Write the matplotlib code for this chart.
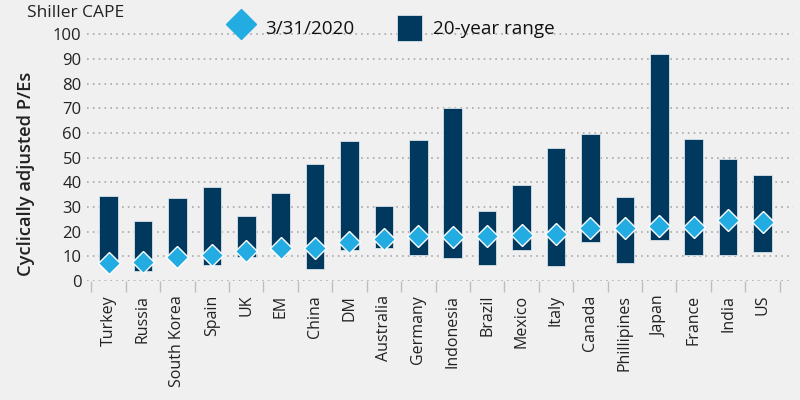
import matplotlib
matplotlib.use("Agg")
import matplotlib.pyplot as plt
from matplotlib.lines import Line2D
from matplotlib.patches import Patch
from matplotlib.ticker import MultipleLocator, FixedLocator
import numpy as np

countries = ["Turkey", "Russia", "South Korea", "Spain", "UK", "EM", "China", "DM",
             "Australia", "Germany", "Indonesia", "Brazil", "Mexico", "Italy", "Canada",
             "Phillipines", "Japan", "France", "India", "US"]
range_low = [7.5, 4.2, 10.5, 6.4, 9.7, 13.5, 5.0, 12.7, 13.4, 10.7, 9.3, 6.6, 12.4, 6.2,
             15.8, 7.1, 16.5, 10.7, 10.7, 11.8]
range_high = [34.6, 24.3, 33.8, 38.2, 26.5, 35.7, 47.6, 56.8, 30.3, 57.0, 70.0, 28.3, 39.0,
              53.8, 59.6, 33.9, 92.0, 57.4, 49.3, 43.1]
current = [7.2, 7.8, 9.9, 10.4, 12.0, 13.2, 13.3, 15.7, 16.9, 18.2, 17.8, 18.1, 18.6, 18.9,
           21.6, 21.7, 22.2, 22.0, 24.7, 24.0]

NAVY = "#00385E"
LIGHT = "#22ACE2"
BG = "#F0F0F0"
FONT = ["Open Sans", "DejaVu Sans"]

plt.rcParams["font.family"] = FONT

fig = plt.figure(figsize=(8, 4), dpi=100, facecolor=BG)
ax = fig.add_axes([0.109, 0.2975, 0.882, 0.6225])
ax.set_facecolor(BG)

x = np.arange(len(countries))
low = np.array(range_low)
high = np.array(range_high)
ax.bar(x, high - low, bottom=low, width=0.54, color=NAVY, edgecolor="#d8e2ea",
       linewidth=0.6, zorder=3)
ax.plot(x, current, linestyle="none", marker="D", markersize=11.5,
        markerfacecolor=LIGHT, markeredgecolor="white", markeredgewidth=1.0, zorder=4)

ax.set_xlim(-0.62, 19.88)
ax.set_ylim(0, 101)
ax.yaxis.set_major_locator(MultipleLocator(10))
ax.grid(axis="y", linestyle=(0, (1, 2.5)), color="#a8a8a8", linewidth=1.2, zorder=0)
for s in ax.spines.values():
    s.set_visible(False)

ax.set_xticks(x)
ax.set_xticklabels(countries, rotation=90, fontsize=11.5, color="#222222")
ax.xaxis.set_minor_locator(FixedLocator(np.arange(-0.5, len(countries), 1.0)))
ax.tick_params(axis="x", which="major", length=0, pad=10)
ax.tick_params(axis="x", which="minor", length=8, color="#bdbdbd", width=1)
ax.tick_params(axis="y", length=0, labelsize=12, labelcolor="#222222", pad=4)

ax.set_ylabel("Cyclically adjusted P/Es", fontsize=13.2, fontweight="semibold",
              color="#222222")
ax.yaxis.set_label_coords(-0.074, 0.43)
fig.text(0.034, 0.968, "Shiller CAPE", fontsize=12.5, color="#222222", ha="left", va="center")

handles = [Line2D([0], [0], linestyle="none", marker="D", markersize=15.5,
                  markerfacecolor=LIGHT, markeredgecolor=LIGHT),
           Patch(facecolor=NAVY, edgecolor="#d8e2ea", linewidth=0.6)]
leg = fig.legend(handles, ["3/31/2020", "20-year range"], loc="center",
                 bbox_to_anchor=(0.49, 0.93), ncol=2, frameon=False, fontsize=13.6,
                 handlelength=1.3, handleheight=1.8, columnspacing=2.3, handletextpad=0.6)
for t in leg.get_texts():
    t.set_color("#111111")

fig.savefig("out.png", dpi=100, facecolor=BG)
